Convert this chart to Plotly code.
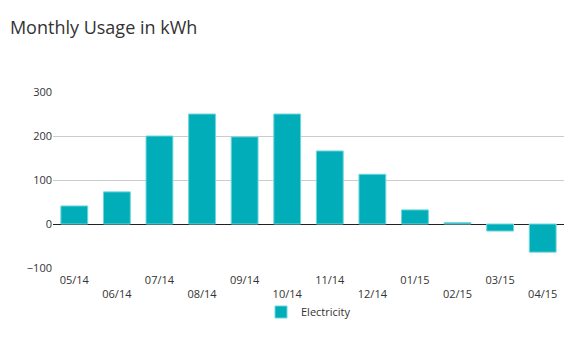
import plotly.graph_objects as go

months = ["05/14", "06/14", "07/14", "08/14", "09/14", "10/14",
          "11/14", "12/14", "01/15", "02/15", "03/15", "04/15"]
electricity = [41, 73, 200, 250, 198, 250, 166, 113, 32, 3, -16, -64]
series_name = "Electricity"
title_text = "Monthly Usage in kWh"
y_ticks = [-100, 0, 100, 200, 300]

tick_text = [m if i % 2 == 0 else "<br>" + m for i, m in enumerate(months)]

fig = go.Figure()
fig.add_trace(go.Bar(
    x=months, y=electricity, name=series_name,
    marker=dict(color="#00adb9", line=dict(color="#6fd6dc", width=1)),
    showlegend=True,
))

fig.update_layout(
    width=583, height=341,
    margin=dict(l=53, r=19, t=92, b=73),
    paper_bgcolor="white", plot_bgcolor="white",
    font=dict(family="Open Sans, sans-serif", color="#333333", size=11),
    title=dict(text=title_text, x=0.017, xanchor="left", y=0.92, yanchor="middle",
               font=dict(size=18, color="#333333")),
    bargap=0.37,
    showlegend=True,
    legend=dict(orientation="h", x=0.5, xanchor="center", y=-0.25, yanchor="middle",
                itemwidth=30, font=dict(size=11, color="#333333")),
    xaxis=dict(tickmode="array", tickvals=months, ticktext=tick_text,
               showgrid=False, showline=False, ticks="", tickangle=0,
               ticklabelstandoff=4,
               tickfont=dict(size=11, color="#333333")),
    yaxis=dict(range=[-100, 300], tickvals=y_ticks, showgrid=True,
               gridcolor="#cccccc", gridwidth=1, zeroline=True,
               zerolinecolor="#222222", zerolinewidth=1, showline=False,
               ticks="", tickfont=dict(size=11, color="#333333")),
)

fig.write_html("out.html")
